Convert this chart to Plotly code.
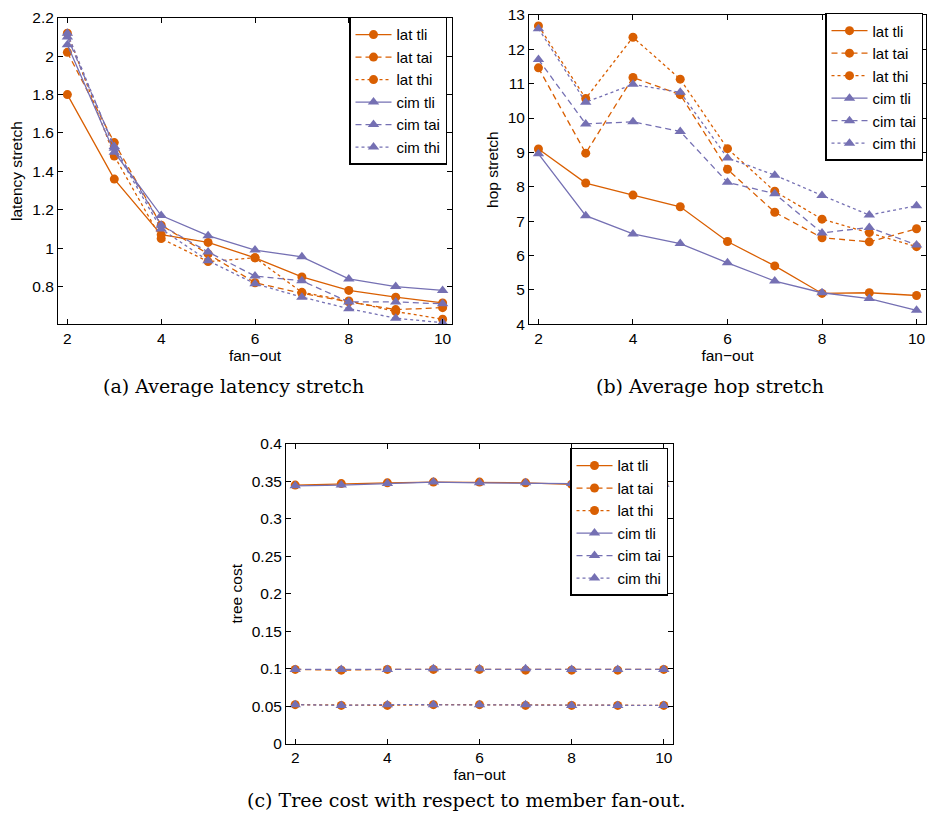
import plotly.graph_objects as go

fan_out = [2, 3, 4, 5, 6, 7, 8, 9, 10]
series_names = ["lat tli", "lat tai", "lat thi", "cim tli", "cim tai", "cim thi"]

# (a) Average latency stretch
a_lat_tli = [1.80, 1.36, 1.07, 1.03, 0.95, 0.85, 0.78, 0.745, 0.715]
a_lat_tai = [2.02, 1.55, 1.12, 0.97, 0.82, 0.765, 0.72, 0.68, 0.69]
a_lat_thi = [2.12, 1.48, 1.05, 0.93, 0.95, 0.77, 0.725, 0.67, 0.63]
a_cim_tli = [2.06, 1.50, 1.17, 1.065, 0.99, 0.955, 0.84, 0.80, 0.78]
a_cim_tai = [2.10, 1.53, 1.12, 0.98, 0.855, 0.83, 0.72, 0.72, 0.71]
a_cim_thi = [2.12, 1.52, 1.10, 0.935, 0.815, 0.745, 0.685, 0.635, 0.612]

# (b) Average hop stretch
b_lat_tli = [9.10, 8.11, 7.76, 7.42, 6.41, 5.70, 4.90, 4.92, 4.84]
b_lat_tai = [11.46, 8.98, 11.18, 10.68, 8.51, 7.26, 6.52, 6.40, 6.78]
b_lat_thi = [12.68, 10.57, 12.35, 11.13, 9.11, 7.87, 7.06, 6.67, 6.26]
b_cim_tli = [8.96, 7.16, 6.63, 6.35, 5.79, 5.26, 4.92, 4.75, 4.41]
b_cim_tai = [11.70, 9.83, 9.89, 9.61, 8.13, 7.80, 6.66, 6.82, 6.31]
b_cim_thi = [12.60, 10.46, 10.98, 10.75, 8.84, 8.34, 7.75, 7.18, 7.45]

# (c) Tree cost
c_lat_tli = [0.345, 0.347, 0.348, 0.349, 0.349, 0.348, 0.346, 0.346, 0.346]
c_lat_tai = [0.099, 0.098, 0.099, 0.099, 0.099, 0.098, 0.098, 0.098, 0.099]
c_lat_thi = [0.052, 0.051, 0.051, 0.052, 0.052, 0.051, 0.051, 0.051, 0.051]
c_cim_tli = [0.344, 0.345, 0.347, 0.349, 0.348, 0.348, 0.347, 0.346, 0.346]
c_cim_tai = [0.099, 0.099, 0.099, 0.100, 0.100, 0.100, 0.099, 0.099, 0.099]
c_cim_thi = [0.052, 0.051, 0.052, 0.052, 0.052, 0.052, 0.051, 0.051, 0.051]

x_ticks = [2, 4, 6, 8, 10]
a_yticks = [0.8, 1, 1.2, 1.4, 1.6, 1.8, 2, 2.2]
a_yticklabels = ["0.8", "1", "1.2", "1.4", "1.6", "1.8", "2", "2.2"]
b_yticks = [4, 5, 6, 7, 8, 9, 10, 11, 12, 13]
c_yticks = [0, 0.05, 0.1, 0.15, 0.2, 0.25, 0.3, 0.35, 0.4]
c_yticklabels = ["0", "0.05", "0.1", "0.15", "0.2", "0.25", "0.3", "0.35", "0.4"]

captions = ["(a) Average latency stretch", "(b) Average hop stretch",
            "(c) Tree cost with respect to member fan-out."]
x_title = "fan\u2212out"
y_titles = ["latency stretch", "hop stretch", "tree cost"]

ORANGE = "#D95F02"
PURPLE = "#7570B3"
colors = [ORANGE, ORANGE, ORANGE, PURPLE, PURPLE, PURPLE]
dashes = ["solid", "6px,4px", "3px,3px", "solid", "6px,4px", "3px,3px"]
symbols = ["circle", "circle", "circle", "triangle-up", "triangle-up", "triangle-up"]
msizes = [9, 9, 9, 10, 10, 10]

panels = [
    ([a_lat_tli, a_lat_tai, a_lat_thi, a_cim_tli, a_cim_tai, a_cim_thi], "x", "y", "legend"),
    ([b_lat_tli, b_lat_tai, b_lat_thi, b_cim_tli, b_cim_tai, b_cim_thi], "x2", "y2", "legend2"),
    ([c_lat_tli, c_lat_tai, c_lat_thi, c_cim_tli, c_cim_tai, c_cim_thi], "x3", "y3", "legend3"),
]

fig = go.Figure()
for series, xa, ya, lg in panels:
    for i, vals in enumerate(series):
        fig.add_trace(go.Scatter(
            x=fan_out, y=vals, name=series_names[i], mode="lines+markers",
            xaxis=xa, yaxis=ya, legend=lg,
            line=dict(color=colors[i], width=1.3, dash=dashes[i]),
            marker=dict(color=colors[i], symbol=symbols[i], size=msizes[i]),
        ))

W, H = 928, 828
def px_x(a, b):
    return [a / W, b / W]
def px_y(top, bottom):
    return [1 - bottom / H, 1 - top / H]

TICKFONT = dict(family="Liberation Sans, Arial, sans-serif", size=15.5, color="black")
TITLEFONT = dict(family="Liberation Sans, Arial, sans-serif", size=15.5, color="black")

def xaxis(domain, anchor):
    return dict(domain=domain, anchor=anchor, range=[1.8, 10.2], tickvals=x_ticks,
                ticks="inside", ticklen=5, tickcolor="black", showline=True,
                linecolor="black", linewidth=1, mirror="ticks", showgrid=False,
                zeroline=False, tickfont=TICKFONT,
                title=dict(text=x_title, font=TITLEFONT, standoff=0))

def yaxis(domain, anchor, rng, tv, tt, title):
    return dict(domain=domain, anchor=anchor, range=rng, tickvals=tv, ticktext=tt,
                ticks="inside", ticklen=5, tickcolor="black", showline=True,
                linecolor="black", linewidth=1, mirror="ticks", showgrid=False,
                zeroline=False, tickfont=TICKFONT,
                title=dict(text=title, font=TITLEFONT, standoff=5))

LEGFONT = dict(family="Liberation Sans, Arial, sans-serif", size=15, color="black")
def legend(xr, yt):
    return dict(x=xr / W, y=1 - yt / H, xanchor="right", yanchor="top",
                bgcolor="white", bordercolor="black", borderwidth=1.5,
                font=LEGFONT, itemwidth=36, tracegroupgap=0,
                itemclick=False)

fig.update_layout(
    width=W, height=H, margin=dict(l=0, r=0, t=0, b=0),
    paper_bgcolor="white", plot_bgcolor="white", showlegend=True,
    xaxis=xaxis(px_x(58, 452), "y"),
    yaxis=yaxis(px_y(9, 322), "x", [0.603, 2.2], a_yticks, a_yticklabels, y_titles[0]),
    xaxis2=xaxis(px_x(529, 926), "y2"),
    yaxis2=yaxis(px_y(6, 322), "x2", [4, 13], b_yticks, [str(v) for v in b_yticks], y_titles[1]),
    xaxis3=xaxis(px_x(286, 673), "y3"),
    yaxis3=yaxis(px_y(444, 750), "x3", [0, 0.4], c_yticks, c_yticklabels, y_titles[2]),
    legend=legend(447, 8),
    legend2=legend(923, 4),
    legend3=legend(668, 448),
)

CAPFONT = dict(family="DejaVu Serif, serif", size=19, color="black")
cap_pos = [(233, 385), (710, 385), (467, 808)]
for text, (cx, cy) in zip(captions, cap_pos):
    fig.add_annotation(text=text, x=cx / W, y=1 - cy / H, xref="paper", yref="paper",
                       xanchor="center", yanchor="middle", showarrow=False, font=CAPFONT)

fig.write_html("out.html")
